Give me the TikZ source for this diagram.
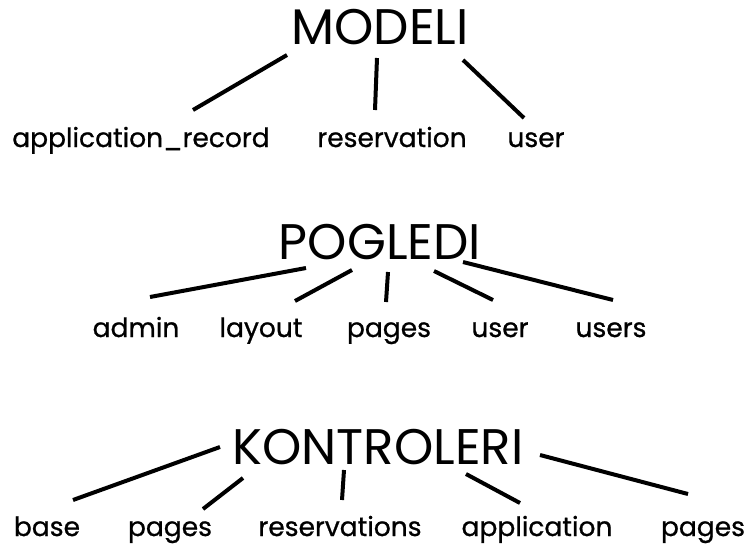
\documentclass[tikz,border=0pt]{standalone}
\usepackage{fontspec}
\setmainfont{Poppins}
\newfontfamily\leaffont[FakeBold=0.8]{Poppins}
\begin{document}
\begin{tikzpicture}[x=1pt,y=-1pt,
  head/.style={inner sep=0pt,font=\fontsize{50}{50}\selectfont},
  leaf/.style={inner sep=0pt,font=\leaffont\fontsize{26.5}{26.5}\selectfont},
  edge/.style={line width=4pt}]
\useasboundingbox (0,0) rectangle (751,546);
% MODELI
\node[head] (m) at (380,27) {MODELI};
\node[leaf,anchor=base] (m1) at (141,147) {application\_record};
\node[leaf,anchor=base] (m2) at (392,147) {reservation};
\node[leaf,anchor=base] (m3) at (536,147) {user};
\coordinate (m1a) at (287,55); \coordinate (m1b) at (193,110);
\coordinate (m2a) at (377,58); \coordinate (m2b) at (375,110);
\coordinate (m3a) at (463,60); \coordinate (m3b) at (524,118);
\draw[edge] (m1a) -- (m1b);
\draw[edge] (m2a) -- (m2b);
\draw[edge] (m3a) -- (m3b);
% POGLEDI
\node[head] (p) at (380,242) {POGLEDI};
\node[leaf,anchor=base] (p1) at (136,337) {admin};
\node[leaf,anchor=base] (p2) at (261,337) {layout};
\node[leaf,anchor=base] (p3) at (389,337) {pages};
\node[leaf,anchor=base] (p4) at (500,337) {user};
\node[leaf,anchor=base] (p5) at (611,337) {users};
\coordinate (p1a) at (306,268); \coordinate (p1b) at (150,297);
\coordinate (p2a) at (352,270); \coordinate (p2b) at (295,301);
\coordinate (p3a) at (388,272); \coordinate (p3b) at (386,302);
\coordinate (p4a) at (434,271); \coordinate (p4b) at (493,300);
\coordinate (p5a) at (463,262); \coordinate (p5b) at (613,300);
\foreach \i in {1,...,5} \draw[edge] (p\i a) -- (p\i b);
% KONTROLERI
\node[head] (k) at (378,447) {KONTROLERI};
\node[leaf,anchor=base] (k1) at (47,536) {base};
\node[leaf,anchor=base] (k2) at (170,536) {pages};
\node[leaf,anchor=base] (k3) at (340,536) {reservations};
\node[leaf,anchor=base] (k4) at (537,536) {application};
\node[leaf,anchor=base] (k5) at (703,536) {pages};
\coordinate (k1a) at (220,447); \coordinate (k1b) at (73,500);
\coordinate (k2a) at (243,478); \coordinate (k2b) at (203,509);
\coordinate (k3a) at (344,470); \coordinate (k3b) at (342,500);
\coordinate (k4a) at (466,474); \coordinate (k4b) at (520,503);
\coordinate (k5a) at (540,455); \coordinate (k5b) at (688,494);
\foreach \i in {1,...,5} \draw[edge] (k\i a) -- (k\i b);
\end{tikzpicture}
\end{document}
